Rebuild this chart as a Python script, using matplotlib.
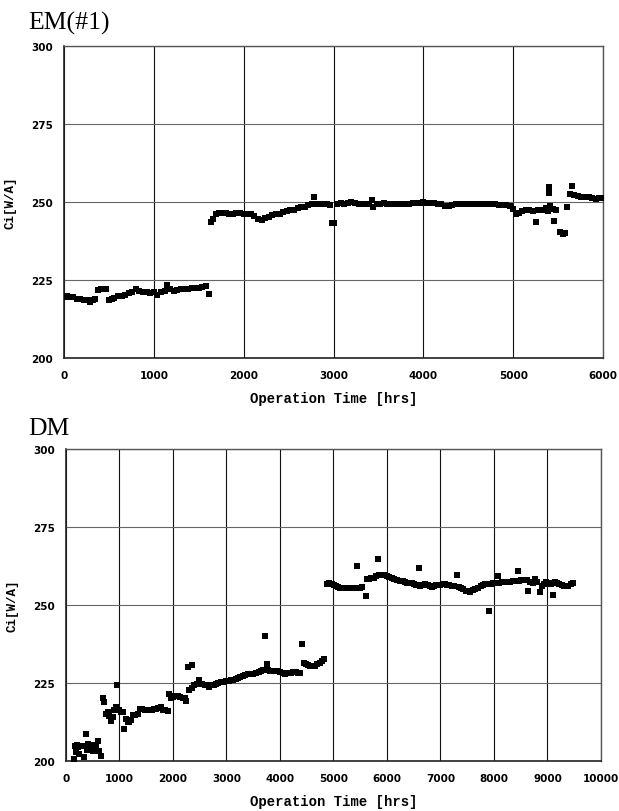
import matplotlib
matplotlib.use('Agg')
import matplotlib.pyplot as plt

# EM(#1): tiempo de operacion [hrs] y Ci [W/A]
em_horas = [0, 30, 60, 100, 140, 180, 220, 260, 290, 320, 350, 380, 410, 440, 470, 500,
            530, 560, 600, 640, 680, 720, 760, 800, 840, 880, 920, 960, 1000, 1040, 1080,
            1120, 1150, 1180, 1220, 1260, 1300, 1340, 1380, 1420, 1460, 1500, 1540, 1580, 1610,
            1640, 1660, 1690, 1720, 1760, 1800, 1840, 1880, 1920, 1960, 2000, 2040, 2080, 2120,
            2160, 2200, 2240, 2280, 2320, 2360, 2400, 2440, 2480, 2520, 2560, 2600, 2640, 2680,
            2720, 2760, 2780, 2810, 2850, 2890, 2930, 2960, 2980, 3010, 3040, 3080, 3120, 3160,
            3200, 3240, 3280, 3320, 3360, 3400, 3430, 3440, 3480, 3520, 3560, 3600, 3640, 3680,
            3720, 3760, 3800, 3840, 3880, 3920, 3960, 4000, 4040, 4080, 4120, 4160, 4200, 4240,
            4280, 4320, 4360, 4400, 4440, 4480, 4520, 4560, 4600, 4640, 4680, 4720, 4760, 4800,
            4840, 4880, 4920, 4960, 5000, 5030, 5060, 5100, 5140, 5180, 5220, 5250, 5280, 5320,
            5360, 5390, 5410, 5400, 5400, 5440, 5450, 5480, 5520, 5550, 5580, 5600, 5630, 5650,
            5680, 5720, 5760, 5800, 5840, 5880, 5920, 5960, 5990]
em_ci = [219.5, 220, 219.5, 219.5, 219, 219, 218.5, 218.5, 218, 218.5, 219, 221.8, 222, 222, 222, 218.5,
         219, 219.3, 219.8, 220, 220.3, 220.8, 221.3, 222, 221.5, 221, 221, 220.8, 221, 220.3, 221,
         221.5, 223.5, 222, 221.5, 221.8, 222, 222, 222.2, 222.3, 222.5, 222.3, 222.8, 223, 220.5,
         243.5, 244.5, 246, 246.5, 246.5, 246.5, 246.3, 246.3, 246.5, 246.5, 246.2, 246, 246, 245.5,
         244.5, 244.3, 245, 245.3, 245.8, 246, 246.3, 246.8, 247, 247.5, 247.5, 248, 248.3, 248.5,
         249, 249.3, 251.5, 249.3, 249.5, 249.5, 249.3, 249, 243.2, 243.2, 249.3, 249.8, 249.5, 249.8,
         250, 249.8, 249.5, 249.2, 249.2, 249.5, 250.8, 248.5, 249.5, 249.5, 249.8, 249.5, 249.5, 249.3,
         249.5, 249.5, 249.5, 249.5, 249.7, 249.7, 249.8, 250, 249.8, 249.7, 249.7, 249.5, 249.3, 248.8,
         248.7, 249, 249.2, 249.5, 249.5, 249.5, 249.3, 249.3, 249.3, 249.3, 249.3, 249.3, 249.3, 249.3,
         249, 249, 249, 248.8, 247.8, 246.2, 246.5, 247, 247.3, 247.5, 247.2, 243.5, 247.3, 247.5,
         248, 247.2, 248.8, 252.8, 254.7, 247.8, 243.8, 247.5, 240.5, 239.8, 240, 248.3, 252.5, 255.2,
         252.2, 251.8, 251.7, 251.5, 251.5, 251.3, 251, 251.2, 251.3]

# DM
dm_horas = [150, 160, 190, 200, 230, 250, 270, 300, 340, 370, 390, 405, 440, 470, 500, 530,
            560, 590, 620, 650, 690, 715, 740, 780, 800, 840, 870, 900, 935, 955, 985, 1020,
            1060, 1090, 1120, 1150, 1185, 1220, 1250, 1290, 1340, 1380, 1430, 1480, 1520, 1560,
            1600, 1640, 1680, 1720, 1770, 1810, 1860, 1900, 1930, 1960, 2000, 2040, 2090, 2140,
            2180, 2220, 2250, 2275, 2300, 2355, 2350, 2400, 2450, 2490, 2550, 2600, 2640, 2680,
            2720, 2760, 2800, 2850, 2900, 2940, 2990, 3040, 3080, 3120, 3170, 3210, 3260, 3300,
            3350, 3400, 3450, 3500, 3550, 3600, 3650, 3690, 3720, 3750, 3780, 3820, 3870, 3920,
            3960, 4000, 4050, 4100, 4150, 4200, 4250, 4300, 4340, 4370, 4420, 4450, 4480, 4520,
            4560, 4600, 4650, 4700, 4750, 4790, 4830, 4880, 4920, 4965, 5010, 5050, 5090, 5130,
            5170, 5215, 5260, 5300, 5340, 5380, 5433, 5464, 5500, 5530, 5600, 5620, 5660, 5710,
            5760, 5800, 5837, 5850, 5900, 5960, 6000, 6040, 6090, 6140, 6190, 6240, 6290, 6340,
            6380, 6420, 6460, 6500, 6550, 6598, 6617, 6660, 6710, 6760, 6800, 6840, 6880, 6920,
            6960, 7000, 7040, 7080, 7120, 7160, 7210, 7260, 7300, 7340, 7390, 7430, 7470, 7520,
            7560, 7600, 7650, 7700, 7750, 7800, 7840, 7906, 7940, 7990, 8040, 8081, 8100, 8150,
            8200, 8250, 8300, 8350, 8400, 8442, 8460, 8500, 8540, 8580, 8620, 8641, 8680, 8720,
            8760, 8800, 8860, 8890, 8930, 8980, 9020, 9060, 9109, 9140, 9180, 9220, 9265, 9310,
            9350, 9390, 9440, 9483]
dm_ci = [200.6, 204.9, 202.8, 205, 204.6, 202.3, 204.9, 204.7, 201.2, 208.8, 203.5, 205.5, 204.2, 204.4, 203.3, 205.2,
         204.8, 206.5, 203.3, 201.6, 220.2, 218.8, 215.1, 215.6, 214.3, 212.9, 214, 216.5, 217.3, 224.5, 216.2, 215.8,
         215.8, 210.3, 213.3, 212.5, 212.4, 213.2, 214.6, 214.8, 215.1, 216.6, 216.7, 216.5, 216.3, 216.5,
         216.2, 216.7, 216.7, 216.9, 217.3, 216.5, 216.2, 216, 221.5, 220.2, 220.4, 220.7, 220.8, 220.5,
         220.3, 220.1, 219.3, 230, 222.6, 230.9, 223.4, 224.2, 224.6, 225.8, 224.7, 224.5, 224.2, 223.7,
         224.3, 224.5, 224.7, 225, 225.2, 225.3, 225.5, 225.6, 225.9, 226, 226.3, 226.5, 226.9, 227.2,
         227.6, 227.8, 228, 228, 228.2, 228.6, 228.9, 229.3, 240, 231.1, 229.2, 229, 228.8, 228.8,
         228.9, 228.6, 228.2, 228, 228.1, 228.2, 228.4, 228.4, 228.2, 228.1, 237.5, 231.5, 231.1, 230.7,
         230.4, 230.3, 230.6, 231, 231.4, 232, 232.8, 256.7, 256.9, 256.7, 256.3, 256, 255.9, 255.6,
         255.5, 255.3, 255.4, 255.3, 255.3, 255.4, 262.4, 255.3, 255.6, 255.8, 252.9, 258.3, 258.4, 258.5,
         258.8, 259.3, 264.9, 259.6, 259.6, 259.6, 259.2, 259, 258.8, 258.4, 258.1, 257.8, 257.6, 257.4,
         257.2, 257.1, 257, 256.8, 256.5, 261.8, 256.2, 256.5, 256.7, 256.3, 256, 255.9, 256.1, 256.3,
         256.4, 256.5, 256.6, 256.7, 256.5, 256.3, 256.2, 256, 259.7, 255.8, 255.6, 255.1, 254.6, 254.4,
         254.3, 254.8, 255.2, 255.6, 256, 256.4, 256.7, 248, 256.8, 256.9, 257.1, 259.4, 257.2, 257.3,
         257.3, 257.4, 257.5, 257.6, 257.7, 260.8, 257.8, 257.9, 258, 258.1, 257.9, 254.6, 257.5, 257.2,
         258.3, 257.3, 254.3, 256.2, 256.6, 257.3, 257, 256.8, 253.2, 257.3, 257, 256.7, 256.4, 256.2,
         256.1, 256.2, 256.6, 257]

y_ticks = [200, 225, 250, 275, 300]
em_x_ticks = [0, 1000, 2000, 3000, 4000, 5000, 6000]
dm_x_ticks = [0, 1000, 2000, 3000, 4000, 5000, 6000, 7000, 8000, 9000, 10000]


def dibujar_panel(ax, horas, ci, x_ticks, titulo, titulo_y):
    # Puntos de datos
    ax.scatter(horas, ci, marker='s', s=22, color='black', zorder=3, linewidths=0)

    ax.set_xlim(x_ticks[0], x_ticks[-1])
    ax.set_ylim(200, 300)
    ax.set_xticks(x_ticks)
    ax.set_yticks(y_ticks)

    # Rejilla: verticales negras, horizontales grises
    ax.xaxis.grid(True, color='#111111', linewidth=0.8)
    ax.yaxis.grid(True, color='#666666', linewidth=0.8)
    ax.set_axisbelow(True)

    for lado in ['left', 'bottom']:
        ax.spines[lado].set_color('#222222')
        ax.spines[lado].set_linewidth(1.2)
    for lado in ['top', 'right']:
        ax.spines[lado].set_color('#555555')
        ax.spines[lado].set_linewidth(1.0)

    ax.tick_params(axis='both', length=0, labelsize=7.5)
    ax.tick_params(axis='x', pad=9)
    ax.tick_params(axis='y', pad=8)
    for etiqueta in ax.get_xticklabels() + ax.get_yticklabels():
        etiqueta.set_fontweight('bold')
        etiqueta.set_family('DejaVu Sans')

    ax.set_xlabel('Operation Time [hrs]', family='Liberation Mono', fontweight='bold', fontsize=10)
    ax.set_ylabel('Ci[W/A]', family='Liberation Mono', fontweight='bold', fontsize=9)
    ax.yaxis.set_label_coords(-0.089, 0.5)
    ax.xaxis.set_label_coords(0.5, -0.106)

    ax.figure.text(0.045, titulo_y, titulo, family='Liberation Serif', fontsize=18.5,
                   va='baseline', ha='left')


fig = plt.figure(figsize=(6.19, 8.12), dpi=100)

ax1 = fig.add_axes([0.1034, 0.5579, 0.8708, 0.3842])
dibujar_panel(ax1, em_horas, em_ci, em_x_ticks, 'EM(#1)', 0.964)

ax2 = fig.add_axes([0.1066, 0.0616, 0.8643, 0.3842])
dibujar_panel(ax2, dm_horas, dm_ci, dm_x_ticks, 'DM', 0.4643)

fig.savefig('out.png', dpi=100)
